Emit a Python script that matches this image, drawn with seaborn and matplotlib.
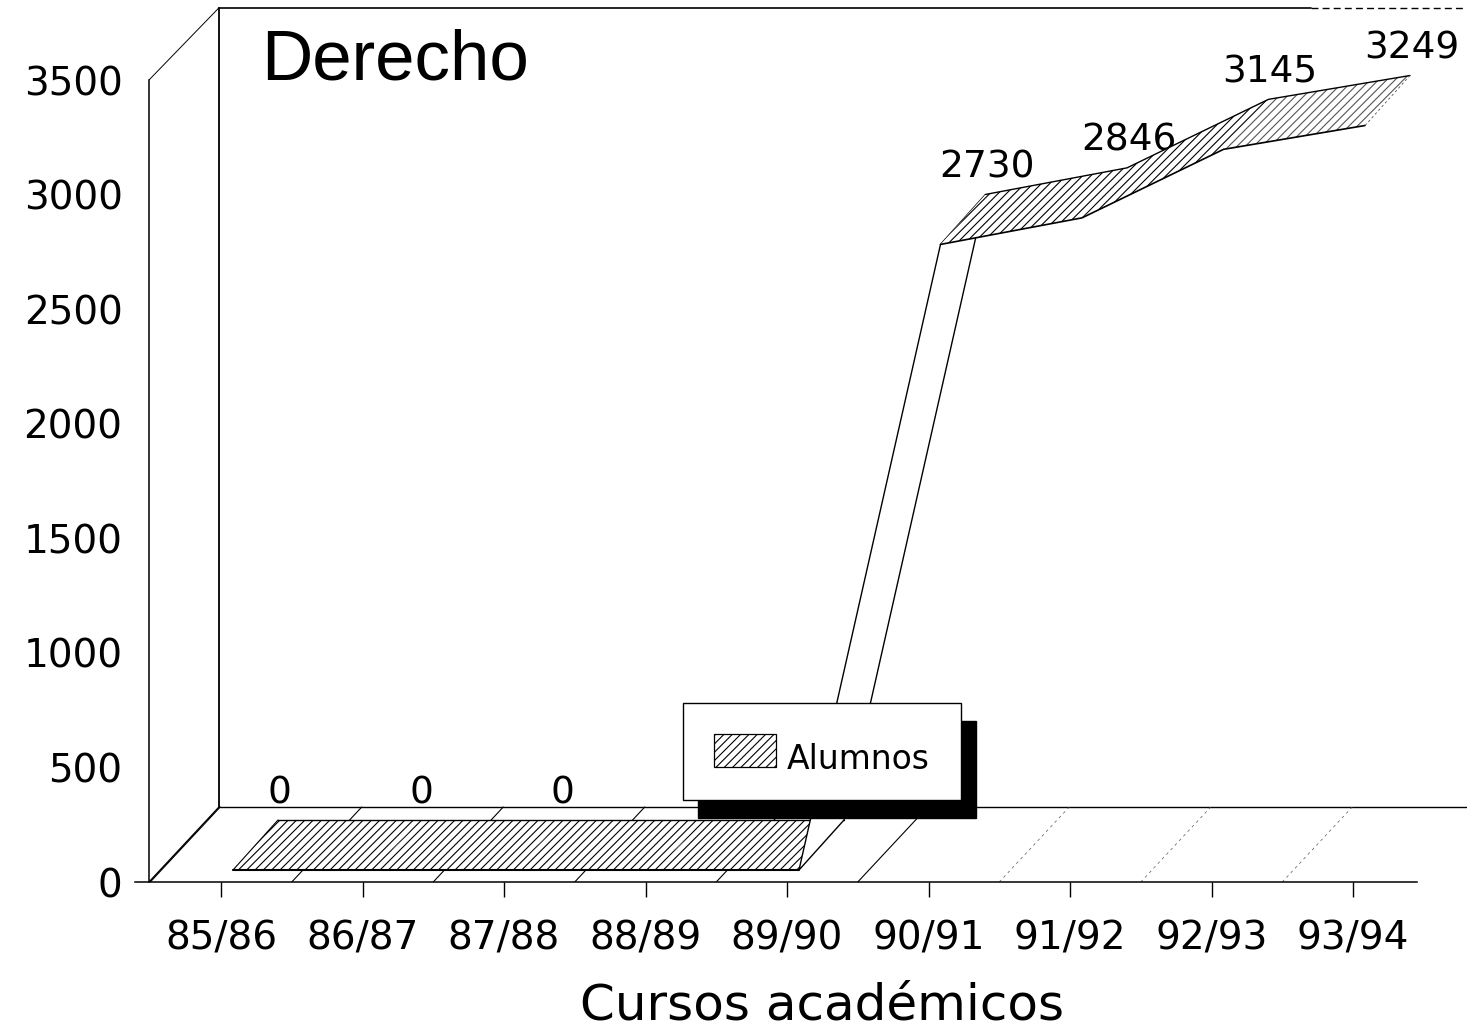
"""
Alumnos de Derecho por curso academico, cinta 3D de Harvard Graphics.
"""

import matplotlib
matplotlib.use('Agg')
import numpy as np
import pandas as pd
import matplotlib.pyplot as plt
from matplotlib.patches import Patch
import seaborn as sns

cursos = ['85/86', '86/87', '87/88', '88/89', '89/90', '90/91', '91/92', '92/93', '93/94']
alumnos = [0, 0, 0, 0, 0, 2730, 2846, 3145, 3249]
y_ticks = [0, 500, 1000, 1500, 2000, 2500, 3000, 3500]

sns.set_theme(style='white', color_codes=False)
plt.rcParams.update({
    'font.family': 'DejaVu Sans',
    'text.color': 'black',
    'hatch.linewidth': 0.8,
    'xtick.bottom': True,
})

# scale of the picture, px per category and px per student
PX_X = 141.5
PX_Y = 802 / 3500
W, H = 1467, 1027
LEFT, BOTTOM = 149, 882

fig = plt.figure(figsize=(W / 100, H / 100), dpi=100, facecolor='white')
ax = fig.add_axes([LEFT / W, (H - BOTTOM) / H, (W - LEFT) / W, BOTTOM / H])
x0 = -(221 - LEFT) / PX_X
ax.set_xlim(x0, x0 + (W - LEFT) / PX_X)
ax.set_ylim(0, BOTTOM / PX_Y)
ax.patch.set_alpha(0)

# depth of the box and of the ribbon (front and back edge)
box_dx, box_dy = 70 / PX_X, 75 / PX_Y
front_dx, front_dy = 12 / PX_X, 12 / PX_Y
back_dx, back_dy = 57 / PX_X, 62 / PX_Y

xs = np.arange(len(cursos))
vals = np.array(alumnos, dtype=float)
fx, fy = xs + front_dx, vals + front_dy
bx, by = xs + back_dx, vals + back_dy

# walls and floor
wall_x = x0 + box_dx
y_top = y_ticks[-1] + box_dy - 12
x_end = ax.get_xlim()[1]
ax.plot([x0, wall_x], [y_ticks[-1], y_top], color='black', lw=0.7, zorder=1)
ax.plot([x0, wall_x], [0, box_dy], color='black', lw=1.0, zorder=1)
ax.plot([wall_x, wall_x], [box_dy, y_top], color='black', lw=1.3, zorder=1)
ax.plot([wall_x, 7.7], [y_top, y_top], color='black', lw=1.2, zorder=1)
ax.plot([7.7, x_end], [y_top, y_top], color='black', lw=1.0, ls=(0, (5, 3)), zorder=1)
ax.plot([wall_x, x_end], [box_dy, box_dy], color='black', lw=1.0, zorder=1)
for i in range(len(cursos)):
    if i < 6:
        ax.plot([i - 0.5, i - 0.5 + box_dx], [0, box_dy], color='black', lw=0.8, zorder=1)
    else:
        ax.plot([i - 0.5, i - 0.5 + box_dx], [0, box_dy], color='#555555', lw=0.5,
                ls=(0, (4, 5)), zorder=1)

# ribbon: flat part, the rise and the top part
for i in range(len(cursos) - 1):
    poly_x = [fx[i], fx[i + 1], bx[i + 1], bx[i]]
    poly_y = [fy[i], fy[i + 1], by[i + 1], by[i]]
    if vals[i] == 0 and vals[i + 1] > 0:
        ax.fill([fx[i], bx[i], bx[i + 1], fx[i + 1]], [fy[i], by[i], by[i + 1], fy[i + 1]],
                facecolor='white', edgecolor='black', lw=1.0, zorder=4)
    else:
        ink = 'black' if i < 7 else '#555555'
        ax.fill(poly_x, poly_y, facecolor='white', edgecolor=ink, hatch='////', lw=0,
                zorder=3 if vals[i] == 0 else 5)

df = pd.DataFrame({'x': fx[:5], 'y': fy[:5]})
sns.lineplot(data=df, x='x', y='y', color='black', lw=1.5, ax=ax, zorder=5, estimator=None, sort=False)
df = pd.DataFrame({'x': bx[:5], 'y': by[:5]})
sns.lineplot(data=df, x='x', y='y', color='black', lw=1.0, ax=ax, zorder=3.5, estimator=None, sort=False)
df = pd.DataFrame({'x': fx[5:], 'y': fy[5:]})
sns.lineplot(data=df, x='x', y='y', color='black', lw=1.2, ax=ax, zorder=6, estimator=None, sort=False)
df = pd.DataFrame({'x': bx[5:], 'y': by[5:]})
sns.lineplot(data=df, x='x', y='y', color='black', lw=1.0, ax=ax, zorder=6, estimator=None, sort=False)
ax.plot([fx[0], bx[0]], [fy[0], by[0]], color='black', lw=0.8, zorder=3.5)
ax.plot([fx[-1], bx[-1]], [fy[-1], by[-1]], color='#555555', lw=0.6, ls=(0, (3, 3)), zorder=6)

# value labels
for i, v in enumerate(alumnos):
    ax.text(i + 58.5 / PX_X, v + back_dy + 17 / PX_Y, str(v), ha='center', va='baseline',
            fontsize=27, color='black', zorder=2)

ax.text(261, 1027 - 80, 'Derecho', transform=None, fontsize=51, family='Liberation Sans',
        color='black', ha='left', va='baseline')

# axes
sns.despine(ax=ax)
ax.spines['left'].set_bounds(0, y_ticks[-1])
ax.spines['bottom'].set_bounds(x0 - 14 / PX_X, 8.45)
for side in ['left', 'bottom']:
    ax.spines[side].set_color('black')
    ax.spines[side].set_linewidth(1.1)
ax.spines['bottom'].set_clip_on(False)
ax.set_xticks(xs)
ax.set_xticklabels(cursos)
ax.set_yticks(y_ticks)
ax.tick_params(axis='x', length=10.5, width=1.0, color='black', labelsize=28, labelcolor='black', pad=16.5)
ax.tick_params(axis='y', length=0, labelsize=28, labelcolor='black', pad=19)
ax.set_xlabel('Cursos académicos', fontsize=36, color='black')
ax.set_ylabel('')
ax.xaxis.set_label_coords((822 - LEFT) / (W - LEFT), -(1019 - BOTTOM) / BOTTOM)
ax.xaxis.label.set_verticalalignment('baseline')

# legend with a solid shadow
swatch = Patch(facecolor='white', edgecolor='black', hatch='////', lw=0.9, label='Alumnos')
leg = ax.legend(handles=[swatch], loc='lower left',
                bbox_to_anchor=((683 - LEFT) / (W - LEFT), (BOTTOM - 800) / BOTTOM),
                fontsize=23.8, frameon=True, fancybox=False, framealpha=1, edgecolor='black',
                facecolor='white', borderaxespad=0, borderpad=0.95, handlelength=1.85,
                handleheight=1.15, handletextpad=0.35,
                shadow={'ox': 10.8, 'oy': -13, 'color': 'black', 'alpha': 1})
leg.get_frame().set_linewidth(1.0)
leg.set_zorder(10)
leg.get_texts()[0].set_color('black')
leg.get_texts()[0].set_y(-7)

fig.savefig('out.png', dpi=100)
plt.close(fig)
